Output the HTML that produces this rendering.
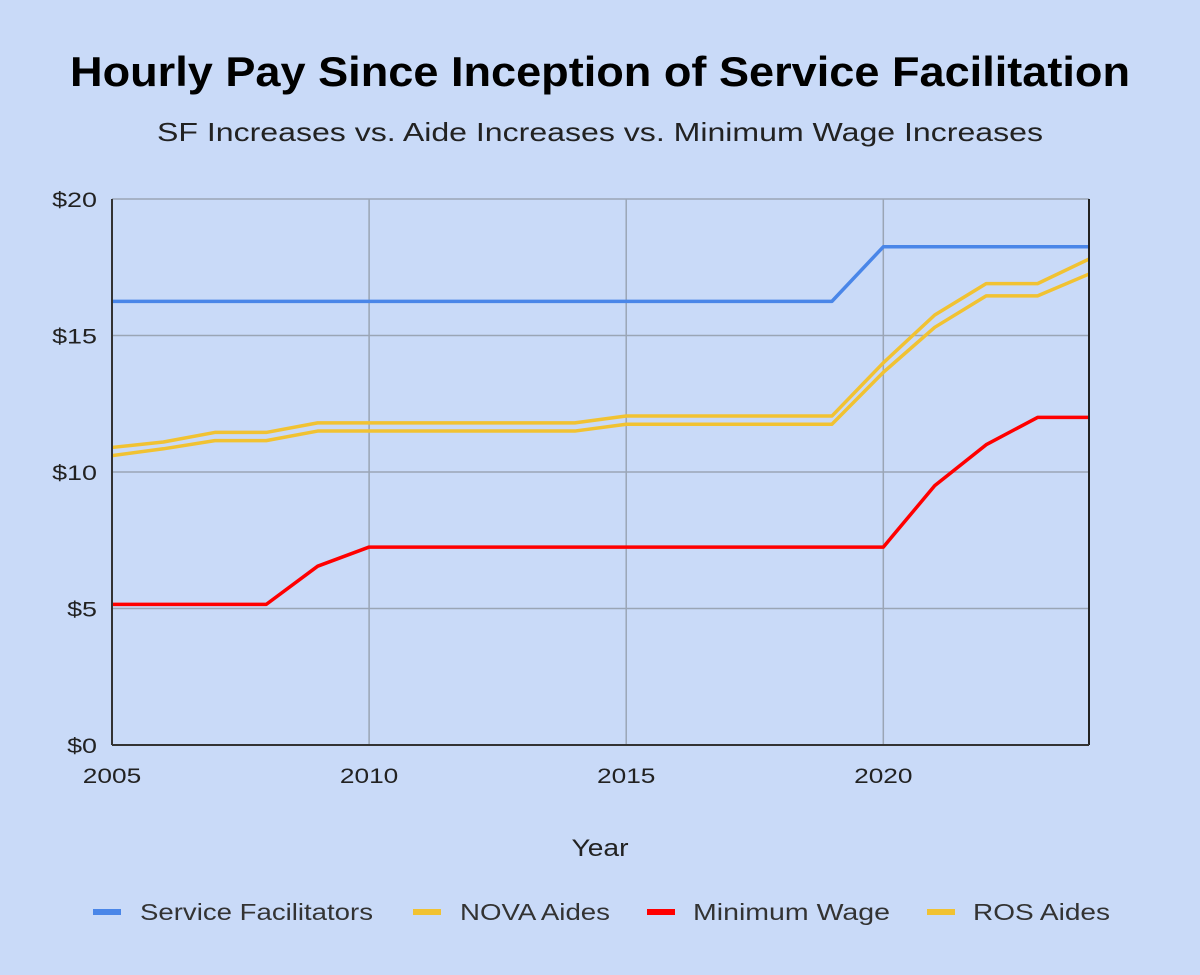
<!DOCTYPE html>
<html><head><meta charset="utf-8"><style>
html,body{margin:0;padding:0;background:#c9daf8;}
svg{display:block;font-family:"Liberation Sans",sans-serif;}
</style></head><body>
<svg id="chart" width="1200" height="975" viewBox="0 0 1200 975">
<rect width="1200" height="975" fill="#c9daf8"/>
<text x="600" y="86" text-anchor="middle" font-size="42" font-weight="bold" fill="#000" textLength="1060" lengthAdjust="spacingAndGlyphs">Hourly Pay Since Inception of Service Facilitation</text>
<text x="600" y="141" text-anchor="middle" font-size="26" fill="#222" textLength="886" lengthAdjust="spacingAndGlyphs">SF Increases vs. Aide Increases vs. Minimum Wage Increases</text>
<g id="grid"></g><g id="series"></g><g id="axes"></g>
<text x="600" y="856" text-anchor="middle" font-size="24" fill="#222" textLength="57" lengthAdjust="spacingAndGlyphs">Year</text>
<g id="legend"></g>
</svg>
<script>
const years=[2005,2006,2007,2008,2009,2010,2011,2012,2013,2014,2015,2016,2017,2018,2019,2020,2021,2022,2023,2024];
const sf=[16.25,16.25,16.25,16.25,16.25,16.25,16.25,16.25,16.25,16.25,16.25,16.25,16.25,16.25,16.25,18.25,18.25,18.25,18.25,18.25];
const nova=[10.9,11.1,11.45,11.45,11.8,11.8,11.8,11.8,11.8,11.8,12.05,12.05,12.05,12.05,12.05,14.0,15.75,16.9,16.9,17.8];
const ros=[10.6,10.85,11.15,11.15,11.5,11.5,11.5,11.5,11.5,11.5,11.75,11.75,11.75,11.75,11.75,13.65,15.3,16.45,16.45,17.25];
const minWage=[5.15,5.15,5.15,5.15,6.55,7.25,7.25,7.25,7.25,7.25,7.25,7.25,7.25,7.25,7.25,7.25,9.5,11,12,12];
const yTicks=[0,5,10,15,20];
const yTickLabels=["$0","$5","$10","$15","$20"];
const xTicks=[2005,2010,2015,2020];
const NS="http://www.w3.org/2000/svg";
const X0=112,X1=1089,Y0=745,Y1=199;
const x=v=>X0+(v-2005)/(2024-2005)*(X1-X0);
const y=v=>Y0-v/20*(Y0-Y1);
function mk(tag,attrs,parent){const e=document.createElementNS(NS,tag);for(const k in attrs)e.setAttribute(k,attrs[k]);parent.appendChild(e);return e;}
function stretch(t,f){const w=t.getComputedTextLength();t.setAttribute('textLength',(w*f).toFixed(1));t.setAttribute('lengthAdjust','spacingAndGlyphs');}
const grid=document.getElementById('grid'),axes=document.getElementById('axes'),ser=document.getElementById('series'),leg=document.getElementById('legend');
yTicks.forEach((t,i)=>{
 if(t>0){const l=mk('line',{x1:X0,x2:X1,y1:y(t),y2:y(t),stroke:'#9aa5b5','stroke-width':1.5},grid);
 
 }
 const tx=mk('text',{x:97,y:y(t)+8,'text-anchor':'end','font-size':21,fill:'#222'},axes);tx.textContent=yTickLabels[i];
 
 
 stretch(tx,1.28);
});
xTicks.forEach(t=>{
 if(t>2005){const l=mk('line',{x1:x(t),x2:x(t),y1:Y1,y2:Y0,stroke:'#9aa5b5','stroke-width':1.5},grid);
 
 }
 const tx=mk('text',{x:x(t),y:783,'text-anchor':'middle','font-size':21,fill:'#222'},axes);tx.textContent=t;
 
 
 stretch(tx,1.25);
});
const a1=mk('line',{x1:X0,x2:X0,y1:Y1,y2:Y0,stroke:'#333','stroke-width':2},axes);


const a2=mk('line',{x1:X1,x2:X1,y1:Y1,y2:Y0,stroke:'#222','stroke-width':2},axes);


const a3=mk('line',{x1:X0,x2:X1,y1:Y0,y2:Y0,stroke:'#333','stroke-width':2},axes);


const series=[["service-facilitators-line",sf,'#4a86e8'],["nova-aides-line",nova,'#f1c232'],["ros-aides-line",ros,'#f1c232'],["minimum-wage-line",minWage,'#ff0000']];
series.forEach(([name,d,c])=>{
 const p=mk('polyline',{points:d.map((v,i)=>x(years[i])+','+y(v)).join(' '),fill:'none',stroke:c,'stroke-width':3.5,'stroke-linejoin':'round'},ser);
 
 
});
const legItems=[["Service Facilitators",'#4a86e8',93,140,233],["NOVA Aides",'#f1c232',413,460,150],["Minimum Wage",'#ff0000',647,693,197],["ROS Aides",'#f1c232',927,973,137]];
legItems.forEach(([label,c,mx,tx,tw])=>{
 const g=mk('g',{},leg);
 
 
 mk('rect',{x:mx,y:909,width:28,height:6,fill:c},g);
 const t=mk('text',{x:tx,y:920,'font-size':23,fill:'#333',textLength:tw,lengthAdjust:'spacingAndGlyphs'},g);t.textContent=label;
});
</script>
</body></html>
